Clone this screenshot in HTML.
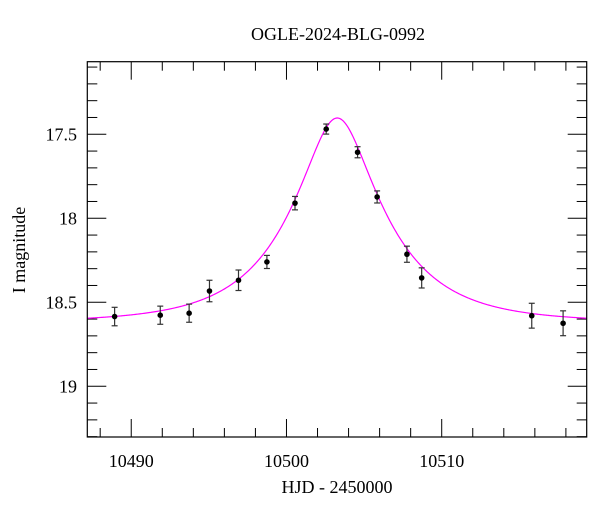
<!DOCTYPE html>
<html><head><meta charset="utf-8"><style>
html,body{margin:0;padding:0;background:#fff;}
svg{display:block;font-family:"Liberation Serif",serif;}
</style></head><body>
<svg id="chart" width="600" height="512" viewBox="0 0 600 512">
<text x="338" y="40" font-size="18" text-anchor="middle">OGLE-2024-BLG-0992</text>
<g id="axes"></g>
<path id="model" fill="none" stroke="#ff00ff" stroke-width="1.2"></path>
<g id="points"></g>
<rect x="87.3" y="61.7" width="499.4" height="375.3" fill="none" stroke="#000" stroke-width="1.2"/>
<text x="337" y="493" font-size="18" text-anchor="middle">HJD - 2450000</text>
<text x="0" y="0" font-size="18" text-anchor="middle" transform="translate(25,250) rotate(-90)">I magnitude</text>
</svg>
<script>
const hjd = [10488.93,10491.87,10493.73,10495.04,10496.91,10498.74,10500.55,10502.56,10504.58,10505.84,10507.76,10508.71,10515.80,10517.82];
const mag = [18.585,18.577,18.565,18.433,18.369,18.26,17.91,17.469,17.607,17.873,18.214,18.355,18.58,18.625];
const magErr = [0.055,0.054,0.054,0.064,0.061,0.039,0.04,0.03,0.033,0.036,0.048,0.06,0.074,0.074];
const xTickLabels = [10490,10500,10510];
const yTickLabels = [17.5,18,18.5,19];
const modelT0 = 10503.27, modelU0 = 0.34, modelTE = 5.95, modelBase = 18.62;

const X0=87.3,X1=586.7,Y0=61.7,Y1=437;
const xMin=10487.17,xMax=10519.34,yMin=17.068,yMax=19.302;
const sx=v=>X0+(v-xMin)/(xMax-xMin)*(X1-X0);
const sy=v=>Y0+(v-yMin)/(yMax-yMin)*(Y1-Y0);
const NS="http://www.w3.org/2000/svg";
function mk(tag,attrs,parent){const e=document.createElementNS(NS,tag);for(const k in attrs)e.setAttribute(k,attrs[k]);parent.appendChild(e);return e;}
const axes=document.getElementById('axes');
for(let d=10488; d<=10518; d+=2){
  const x=sx(d); const major=d%10===0; const L=major?18:9;
  const t1=mk('line',{x1:x,x2:x,y1:Y1,y2:Y1-L,stroke:'#000','stroke-width':1},axes);
  
  
  const t2=mk('line',{x1:x,x2:x,y1:Y0,y2:Y0+L,stroke:'#000','stroke-width':1},axes);
  
  
}
xTickLabels.forEach(v=>{
  const t=mk('text',{x:sx(v),y:467,'font-size':18,'text-anchor':'middle'},axes);
  t.textContent=v;
  
  
});
for(let i=171;i<=193;i++){
  const v=i/100*10; const y=sy(v); const major=i%5===0; const L=major?19:10;
  const t1=mk('line',{x1:X0,x2:X0+L,y1:y,y2:y,stroke:'#000','stroke-width':1},axes);
  
  
  const t2=mk('line',{x1:X1,x2:X1-L,y1:y,y2:y,stroke:'#000','stroke-width':1},axes);
  
  
}
yTickLabels.forEach(v=>{
  const t=mk('text',{x:77,y:sy(v)+6,'font-size':18,'text-anchor':'end'},axes);
  t.textContent=v;
  
  
});
let d='';
for(let i=0;i<=600;i++){
  const t=xMin+(xMax-xMin)*i/600;
  const tau=(t-modelT0)/modelTE; const u=Math.sqrt(modelU0*modelU0+tau*tau);
  const A=(u*u+2)/(u*Math.sqrt(u*u+4));
  const m=modelBase-2.5*Math.log10(A);
  d+=(i?'L':'M')+sx(t).toFixed(2)+' '+sy(m).toFixed(2);
}
document.getElementById('model').setAttribute('d',d);
const pts=document.getElementById('points');
hjd.forEach((t,i)=>{
  const x=sx(t),y=sy(mag[i]),ya=sy(mag[i]-magErr[i]),yb=sy(mag[i]+magErr[i]);
  const g=mk('g',{},pts);
  
  
  mk('line',{x1:x,x2:x,y1:ya,y2:yb,stroke:'#333','stroke-width':1.2},g);
  mk('line',{x1:x-3,x2:x+3,y1:ya,y2:ya,stroke:'#333','stroke-width':1.2},g);
  mk('line',{x1:x-3,x2:x+3,y1:yb,y2:yb,stroke:'#333','stroke-width':1.2},g);
  mk('circle',{cx:x,cy:y,r:2.8,fill:'#000'},g);
});
</script>
</body></html>
